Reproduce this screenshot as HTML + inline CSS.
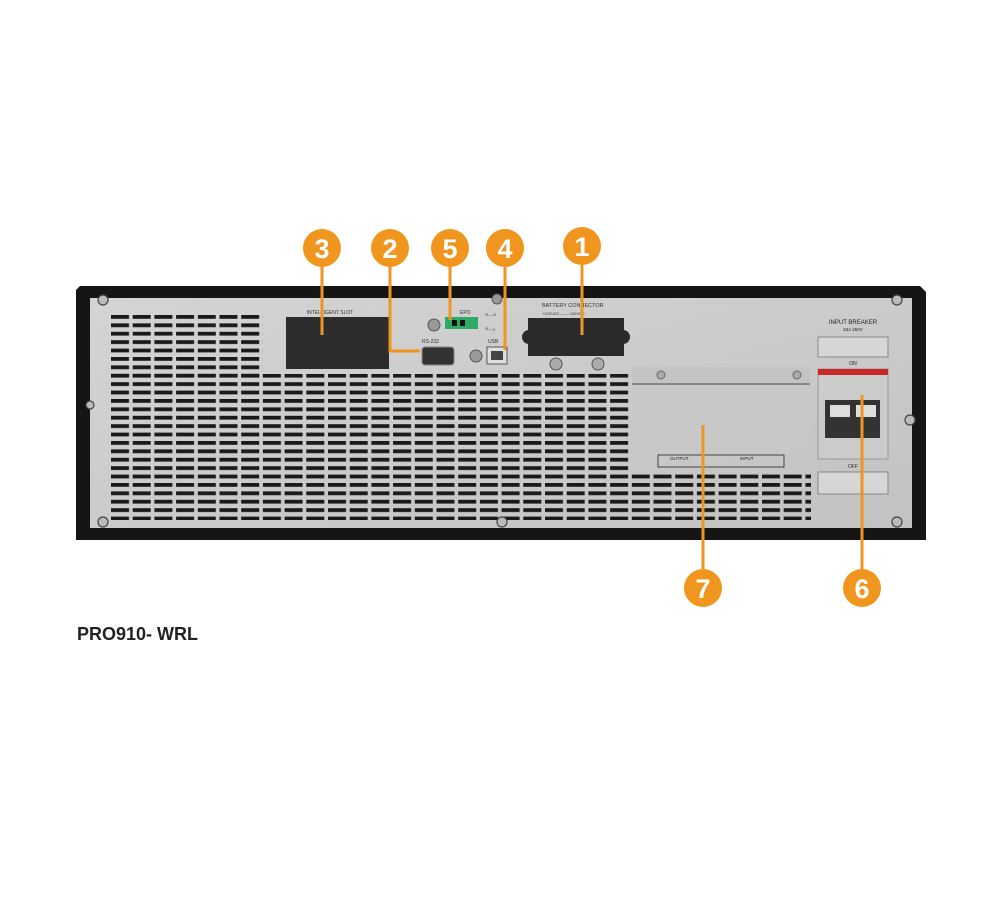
<!DOCTYPE html>
<html><head><meta charset="utf-8"><style>
html,body{margin:0;padding:0;background:#fff;width:1000px;height:915px;overflow:hidden}
svg{display:block}
text{font-family:"Liberation Sans",sans-serif}
</style></head><body>
<svg width="1000" height="915" viewBox="0 0 1000 915">
<defs>
<pattern id="v" x="111" y="315" width="21.7" height="8.4" patternUnits="userSpaceOnUse">
<rect x="0" y="0" width="18" height="3.8" fill="#1a1a1a"/>
</pattern>
<linearGradient id="g" x1="0" y1="0" x2="1" y2="1">
<stop offset="0" stop-color="#d4d4d4"/><stop offset="1" stop-color="#c2c2c2"/>
</linearGradient>
</defs>
<path d="M80 286 L920 286 L926 292 L926 540 L76 540 L76 290 Z" fill="#151515"/>
<rect x="90" y="298" width="822" height="230" fill="url(#g)"/>
<rect x="111" y="315" width="152" height="62" fill="url(#v)"/>
<rect x="111" y="374" width="520" height="146" fill="url(#v)"/>
<rect x="631" y="474" width="180" height="46" fill="url(#v)"/>
<text x="330" y="314" font-size="5" text-anchor="middle" fill="#333">INTELLIGENT SLOT</text>
<rect x="286" y="317" width="103" height="52" fill="#2c2c2c"/>
<circle cx="434" cy="325" r="6" fill="#999" stroke="#555"/>
<text x="460" y="314" font-size="5" fill="#333">EPO</text>
<rect x="445" y="317" width="33" height="12" fill="#2faa66"/>
<rect x="452" y="320" width="5" height="6" fill="#111"/><rect x="460" y="320" width="5" height="6" fill="#111"/>
<text x="485" y="316" font-size="4" fill="#333">⊖— 8</text>
<text x="485" y="330" font-size="4" fill="#333">⊖—△</text>
<circle cx="497" cy="299" r="5" fill="#999" stroke="#555"/>
<text x="422" y="343" font-size="5" fill="#333">RS-232</text>
<rect x="422" y="347" width="32" height="18" rx="3" fill="#333" stroke="#888"/>
<circle cx="476" cy="356" r="6" fill="#999" stroke="#555"/>
<text x="488" y="343" font-size="5" fill="#333">USB</text>
<rect x="487" y="347" width="20" height="17" fill="#ddd" stroke="#555"/>
<rect x="491" y="351" width="12" height="9" fill="#444"/>
<text x="542" y="307" font-size="5.5" fill="#333">BATTERY CONNECTOR</text>
<text x="542" y="315" font-size="4" fill="#333">+120VDC —— 240VDC</text>
<rect x="528" y="318" width="96" height="38" fill="#2a2a2a"/>
<circle cx="529" cy="337" r="7" fill="#2a2a2a"/><circle cx="623" cy="337" r="7" fill="#2a2a2a"/>
<circle cx="556" cy="364" r="6" fill="#aaa" stroke="#555"/><circle cx="598" cy="364" r="6" fill="#aaa" stroke="#555"/>
<rect x="632" y="367" width="178" height="16" fill="#c4c4c4"/>
<rect x="632" y="383" width="178" height="2" fill="#888"/>
<rect x="632" y="385" width="178" height="64" fill="#c8c8c8"/>
<circle cx="661" cy="375" r="4" fill="#aaa" stroke="#666"/><circle cx="797" cy="375" r="4" fill="#aaa" stroke="#666"/>
<rect x="658" y="455" width="126" height="12" fill="none" stroke="#222" stroke-width="0.8"/>
<text x="670" y="460" font-size="4.5" fill="#222">OUTPUT</text><text x="740" y="460" font-size="4.5" fill="#222">INPUT</text>
<text x="853" y="324" font-size="6" text-anchor="middle" fill="#222">INPUT BREAKER</text>
<text x="853" y="331" font-size="4.5" text-anchor="middle" fill="#222">63A 250V</text>
<rect x="818" y="337" width="70" height="20" fill="#d6d6d6" stroke="#888"/>
<text x="853" y="365" font-size="5" text-anchor="middle" fill="#222">ON</text>
<rect x="818" y="369" width="70" height="90" fill="#ccc" stroke="#999"/>
<rect x="818" y="369" width="70" height="6" fill="#c62828"/>
<rect x="825" y="400" width="55" height="38" fill="#333"/>
<rect x="830" y="405" width="20" height="12" fill="#ddd"/><rect x="856" y="405" width="20" height="12" fill="#ddd"/>
<text x="853" y="468" font-size="5" text-anchor="middle" fill="#222">OFF</text>
<rect x="818" y="472" width="70" height="22" fill="#d6d6d6" stroke="#888"/>
<g fill="#bbb" stroke="#444" stroke-width="1.2">
<circle cx="103" cy="300" r="5"/><circle cx="897" cy="300" r="5"/><circle cx="103" cy="522" r="5"/><circle cx="897" cy="522" r="5"/>
<circle cx="502" cy="522" r="5"/><circle cx="90" cy="405" r="4"/><circle cx="910" cy="420" r="5"/>
</g>
<g stroke="#f0961e" stroke-width="3" fill="none">
<polyline points="322,255 322,335"/>
<polyline points="390,255 390,351 420,351"/>
<polyline points="450,255 450,320"/>
<polyline points="505,255 505,350"/>
<polyline points="582,255 582,335"/>
<polyline points="703,425 703,580"/>
<polyline points="862,395 862,580"/>
</g>
<g fill="#f0961e">
<circle cx="322" cy="248" r="19"/><circle cx="390" cy="248" r="19"/><circle cx="450" cy="248" r="19"/>
<circle cx="505" cy="248" r="19"/><circle cx="582" cy="246" r="19"/><circle cx="703" cy="588" r="19"/><circle cx="862" cy="588" r="19"/>
</g>
<g fill="#fff" font-size="27" font-weight="bold" text-anchor="middle">
<text x="322" y="258">3</text><text x="390" y="258">2</text><text x="450" y="258">5</text>
<text x="505" y="258">4</text><text x="582" y="256">1</text><text x="703" y="598">7</text><text x="862" y="598">6</text>
</g>
<text x="77" y="640" font-size="18" font-weight="bold" fill="#222">PRO910- WRL</text>
</svg>
</body></html>
